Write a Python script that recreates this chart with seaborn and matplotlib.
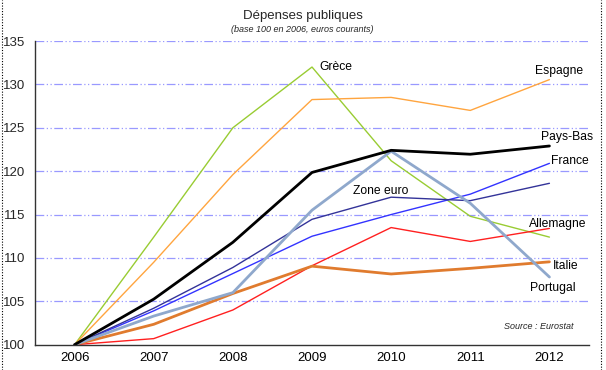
import pandas as pd
import numpy as np
import matplotlib.pyplot as plt
import seaborn as sns
from matplotlib.lines import Line2D

# --- data (base 100 in 2006) ---
years = ['2006', '2007', '2008', '2009', '2010', '2011', '2012']
grece = [100, 112.4, 125.0, 132.0, 121.2, 114.8, 112.4]
espagne = [100, 109.5, 119.6, 128.25, 128.5, 127.0, 130.55]
pays_bas = [100, 105.25, 111.8, 119.85, 122.4, 121.95, 122.9]
france = [100, 103.9, 108.2, 112.5, 115.0, 117.35, 120.9]
zone_euro = [100, 104.2, 108.9, 114.45, 117.0, 116.6, 118.6]
allemagne = [100, 100.7, 104.0, 109.1, 113.5, 111.9, 113.4]
italie = [100, 102.35, 105.9, 109.05, 108.15, 108.8, 109.55]
portugal = [100, 103.3, 106.0, 115.5, 122.3, 116.3, 107.8]

series = {
    'Grèce': grece, 'Espagne': espagne, 'Pays-Bas': pays_bas,
    'France': france, 'Zone euro': zone_euro, 'Allemagne': allemagne,
    'Italie': italie, 'Portugal': portugal,
}
df = pd.DataFrame([(name, y, v) for name, vals in series.items()
                   for y, v in zip(years, vals)],
                  columns=['Pays', 'Annee', 'Indice'])

palette = {
    'Grèce': '#99CC33', 'Espagne': '#FFA53F', 'Pays-Bas': '#000000',
    'France': '#3333FF', 'Zone euro': '#333399', 'Allemagne': '#FF2020',
    'Italie': '#E07B2E', 'Portugal': '#8FA8CC',
}
widths = {
    'Grèce': 1.0, 'Espagne': 1.0, 'Pays-Bas': 2.0, 'France': 1.0,
    'Zone euro': 1.0, 'Allemagne': 1.0, 'Italie': 2.0, 'Portugal': 2.0,
}

sns.set_theme(style="white")
plt.rcParams['font.family'] = ['Liberation Sans', 'DejaVu Sans']

fig = plt.figure(figsize=(6.06, 3.70), dpi=100)
ax = fig.add_axes([35 / 606, 1 - 344.7 / 370, 554 / 606, 303.7 / 370])

# draw order: thin lines first, thick ones on top
order = ['Grèce', 'Espagne', 'Allemagne', 'France', 'Zone euro',
         'Italie', 'Portugal', 'Pays-Bas']
for name in order:
    sub = df[df['Pays'] == name]
    sns.lineplot(data=sub, x='Annee', y='Indice', color=palette[name],
                 linewidth=widths[name], ax=ax, legend=False)

ax.set_xlim(-0.5, 6.5)
ax.set_ylim(100, 135)
ax.set_yticks(np.arange(100, 136, 5))
ax.set_xlabel('')
ax.set_ylabel('')

# grid: blue dash-dot-dot
for v in np.arange(105, 136, 5):
    ax.axhline(v, color='#9999FF', lw=0.9, dashes=(7, 2, 1, 2, 1, 2), zorder=0)

for s in ['top', 'right']:
    ax.spines[s].set_visible(False)
for s in ['left', 'bottom']:
    ax.spines[s].set_color('#333333')
    ax.spines[s].set_linewidth(1.0)

ax.set_xticks(range(len(years)))
ax.set_xticklabels(years)
ax.set_xticks(np.arange(-0.5, 7, 1), minor=True)
ax.tick_params(axis='x', which='major', length=0, labelsize=9.5, pad=5, colors='black')
ax.tick_params(axis='x', which='minor', length=4, width=1, color='#333333', direction='out')
ax.tick_params(axis='y', which='major', length=3, width=1, color='#333333', direction='out',
               labelsize=9.5, pad=4)

# series labels
labels = [
    ('Grèce', 3.09, 132.0, 'left'),
    ('Espagne', 6.12, 131.6, 'center'),
    ('Pays-Bas', 6.22, 123.9, 'center'),
    ('France', 6.26, 121.2, 'center'),
    ('Zone euro', 3.87, 117.7, 'center'),
    ('Allemagne', 6.10, 113.9, 'center'),
    ('Italie', 6.20, 109.06, 'center'),
    ('Portugal', 6.04, 106.56, 'center'),
]
for txt, x, y, ha in labels:
    ax.text(x, y, txt, ha=ha, va='center', fontsize=8.7, color='black')

ax.text(5.87, 102.15, 'Source : Eurostat', ha='center', va='center',
        fontsize=6.5, style='italic')

fig.text(303 / 606, 1 - 15.7 / 370, 'Dépenses publiques', ha='center', va='center',
         fontsize=9.5)
fig.text(302 / 606, 1 - 30 / 370, '(base 100 en 2006, euros courants)', ha='center',
         va='center', fontsize=6.5, style='italic')

# dotted frame on the sides
for xf in [1.5 / 606, 601 / 606]:
    fig.add_artist(Line2D([xf, xf], [0, 1], transform=fig.transFigure,
                          color='black', lw=0.8, ls=(0, (1, 1.5))))

plt.savefig('out.png', dpi=100)
